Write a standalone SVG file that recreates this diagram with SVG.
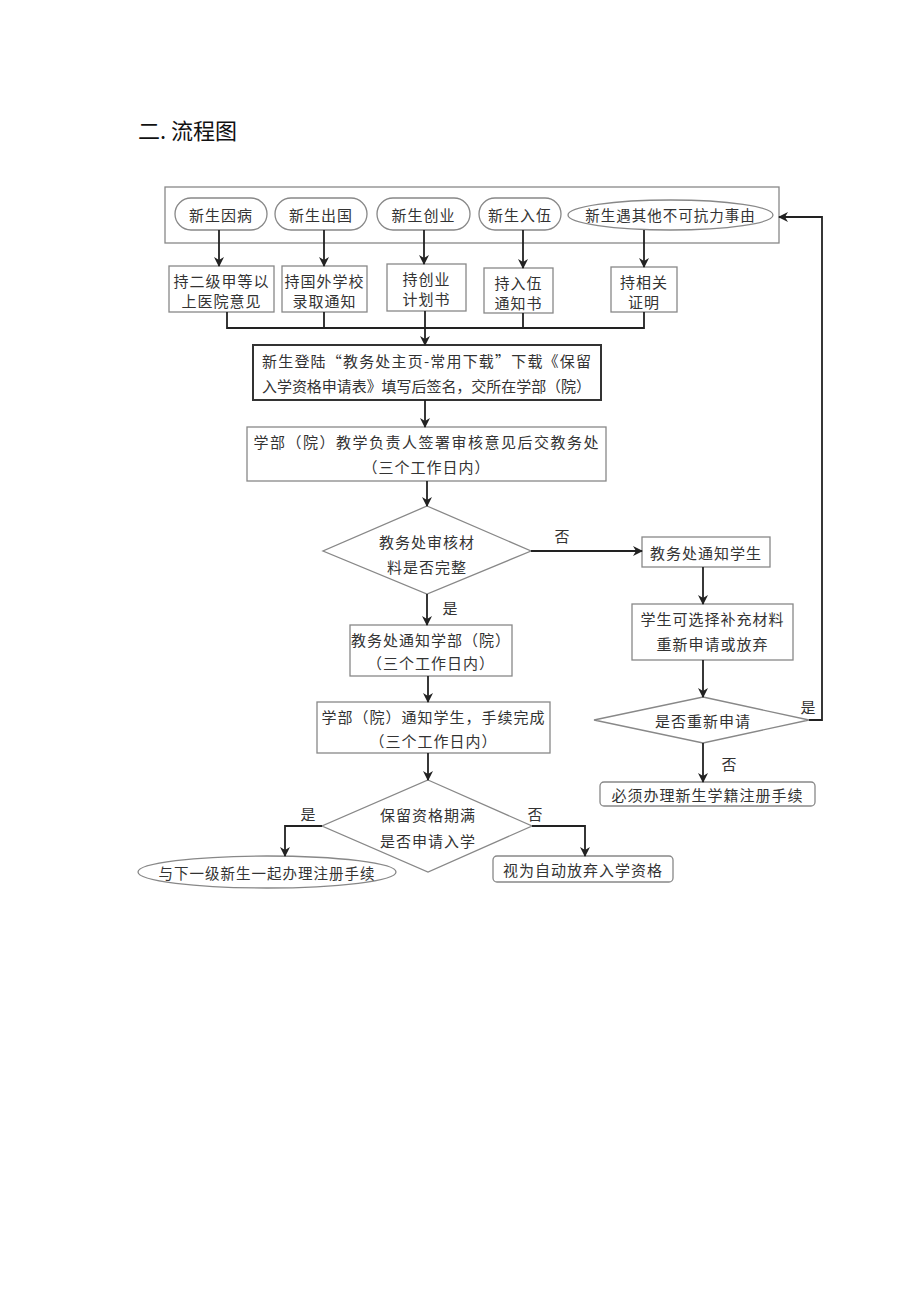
<svg xmlns="http://www.w3.org/2000/svg" width="920" height="1301" viewBox="0 0 920 1301">
<defs>
<marker id="ah" markerWidth="10" markerHeight="10" refX="9" refY="5" orient="auto" markerUnits="userSpaceOnUse">
<path d="M0,0 L10,5 L0,10 L3,5 Z" fill="#222"/>
</marker>
<style>
.box{fill:#fff;stroke:#888;stroke-width:1.3}
.main{fill:#fff;stroke:#333;stroke-width:2}
.t{font-family:"Noto Sans CJK SC","Noto Sans CJK JP",sans-serif;font-size:15px;fill:#333;text-anchor:middle;dominant-baseline:central;letter-spacing:1px}
.lab{font-family:"Noto Sans CJK SC",sans-serif;font-size:15px;fill:#333;text-anchor:middle;dominant-baseline:central}
.c{fill:none;stroke:#222;stroke-width:1.8}
.ca{fill:none;stroke:#222;stroke-width:1.8;marker-end:url(#ah)}
</style>
</defs>
<rect width="920" height="1301" fill="#fff"/>
<text x="138" y="139" font-family="'Noto Sans CJK SC',sans-serif" font-size="22" fill="#111">二. 流程图</text>

<g id="outer"><rect class="box" x="165" y="187" width="614" height="56"/></g>
<g id="p1"><rect class="box" x="175" y="198" width="92" height="32" rx="16"/><text class="t" x="221" y="214" letter-spacing="2">新生因病</text></g>
<g id="p2"><rect class="box" x="275" y="198" width="92" height="32" rx="16"/><text class="t" x="321" y="214" letter-spacing="2">新生出国</text></g>
<g id="p3"><rect class="box" x="377" y="198" width="93" height="32" rx="16"/><text class="t" x="423.5" y="214" letter-spacing="2">新生创业</text></g>
<g id="p4"><rect class="box" x="479" y="198" width="82" height="32" rx="16"/><text class="t" x="520" y="214">新生入伍</text></g>
<g id="p5"><ellipse class="box" cx="670.5" cy="215" rx="102.5" ry="15"/><text class="t" x="670.5" y="214" style="font-size:14.5px" letter-spacing="0">新生遇其他不可抗力事由</text></g>

<g id="b1"><rect class="box" x="169" y="266" width="105" height="46"/><text class="t" x="221.5" y="280" letter-spacing="0">持二级甲等以</text><text class="t" x="221.5" y="300">上医院意见</text></g>
<g id="b2"><rect class="box" x="282" y="266" width="85" height="46"/><text class="t" x="324.5" y="280" letter-spacing="0">持国外学校</text><text class="t" x="324.5" y="300" letter-spacing="0">录取通知</text></g>
<g id="b3"><rect class="box" x="387" y="264" width="79" height="47"/><text class="t" x="426.5" y="278">持创业</text><text class="t" x="426.5" y="298">计划书</text></g>
<g id="b4"><rect class="box" x="484" y="268" width="69" height="45"/><text class="t" x="518.5" y="282">持入伍</text><text class="t" x="518.5" y="302">通知书</text></g>
<g id="b5"><rect class="box" x="611" y="267" width="66" height="45"/><text class="t" x="644" y="281">持相关</text><text class="t" x="644" y="301">证明</text></g>

<g id="apply"><rect class="main" x="253" y="345" width="348" height="55"/>
<text class="t" x="427" y="360" textLength="330" lengthAdjust="spacing" letter-spacing="0">新生登陆“教务处主页-常用下载”下载《保留</text>
<text class="t" x="427" y="385" textLength="330" lengthAdjust="spacing" letter-spacing="0">入学资格申请表》填写后签名，交所在学部（院）</text></g>

<g id="dept"><rect class="box" x="247" y="427" width="359" height="54"/>
<text class="t" x="426.5" y="441" textLength="346" lengthAdjust="spacing" letter-spacing="0">学部（院）教学负责人签署审核意见后交教务处</text>
<text class="t" x="426.5" y="466">（三个工作日内）</text></g>

<g id="d1"><polygon class="box" points="427,506 531,551 427,594 323,551"/>
<text class="t" x="427" y="541" letter-spacing="2">教务处审核材</text><text class="t" x="427" y="566" letter-spacing="2">料是否完整</text></g>

<g id="n1"><rect class="box" x="642" y="537" width="128" height="30"/><text class="t" x="706" y="552">教务处通知学生</text></g>
<g id="n2"><rect class="box" x="632" y="604" width="161" height="56"/><text class="t" x="712.5" y="618" letter-spacing="2">学生可选择补充材料</text><text class="t" x="712.5" y="643" letter-spacing="2">重新申请或放弃</text></g>
<g id="d3"><polygon class="box" points="703,697 809,720 703,743 594,720"/><text class="t" x="703" y="720">是否重新申请</text></g>
<g id="n3"><rect class="box" x="600" y="782" width="215" height="24" rx="4"/><text class="t" x="707.5" y="794" letter-spacing="0.5">必须办理新生学籍注册手续</text></g>

<g id="m1"><rect class="box" x="350" y="625" width="162" height="51"/><text class="t" x="431" y="639" letter-spacing="0.5">教务处通知学部（院）</text><text class="t" x="431" y="662" letter-spacing="2">（三个工作日内）</text></g>
<g id="m2"><rect class="box" x="317" y="702" width="233" height="51"/><text class="t" x="433.5" y="716" letter-spacing="0.5">学部（院）通知学生，手续完成</text><text class="t" x="433.5" y="740">（三个工作日内）</text></g>
<g id="d2"><polygon class="box" points="428,780 532,826 428,872 322,826"/><text class="t" x="428" y="814" letter-spacing="2">保留资格期满</text><text class="t" x="428" y="840" letter-spacing="2">是否申请入学</text></g>
<g id="e1"><ellipse class="box" cx="267" cy="872" rx="129" ry="16"/><text class="t" x="267" y="872" style="font-size:14.5px" letter-spacing="0">与下一级新生一起办理注册手续</text></g>
<g id="e2"><rect class="box" x="493" y="856" width="180" height="26" rx="4"/><text class="t" x="583" y="869" letter-spacing="1">视为自动放弃入学资格</text></g>

<g id="connectors">
<line class="ca" x1="219" y1="230" x2="219" y2="266"/>
<line class="ca" x1="324" y1="230" x2="324" y2="266"/>
<line class="ca" x1="424" y1="230" x2="424" y2="264"/>
<line class="ca" x1="523" y1="230" x2="523" y2="268"/>
<line class="ca" x1="644" y1="230" x2="644" y2="267"/>
<path class="c" d="M227,312 V328 H644 V312 M324,312 V328 M523,313 V328"/>
<line class="ca" x1="425" y1="311" x2="425" y2="345"/>
<line class="ca" x1="425" y1="400" x2="425" y2="427"/>
<line class="ca" x1="427" y1="481" x2="427" y2="506"/>
<line class="ca" x1="531" y1="551" x2="642" y2="551"/>
<line class="ca" x1="427" y1="594" x2="427" y2="625"/>
<line class="ca" x1="703" y1="567" x2="703" y2="604"/>
<line class="ca" x1="428" y1="676" x2="428" y2="702"/>
<line class="ca" x1="703" y1="660" x2="703" y2="697"/>
<line class="ca" x1="428" y1="753" x2="428" y2="780"/>
<path class="ca" d="M809,720 H822 V217 H779"/>
<line class="ca" x1="703" y1="743" x2="703" y2="782"/>
<path class="ca" d="M322,826 H285 V856"/>
<path class="ca" d="M532,826 H585 V856"/>
<text class="lab" x="562" y="535">否</text>
<text class="lab" x="450" y="607">是</text>
<text class="lab" x="808" y="706">是</text>
<text class="lab" x="729" y="763">否</text>
<text class="lab" x="308" y="813">是</text>
<text class="lab" x="535" y="813">否</text>
</g>
</svg>
